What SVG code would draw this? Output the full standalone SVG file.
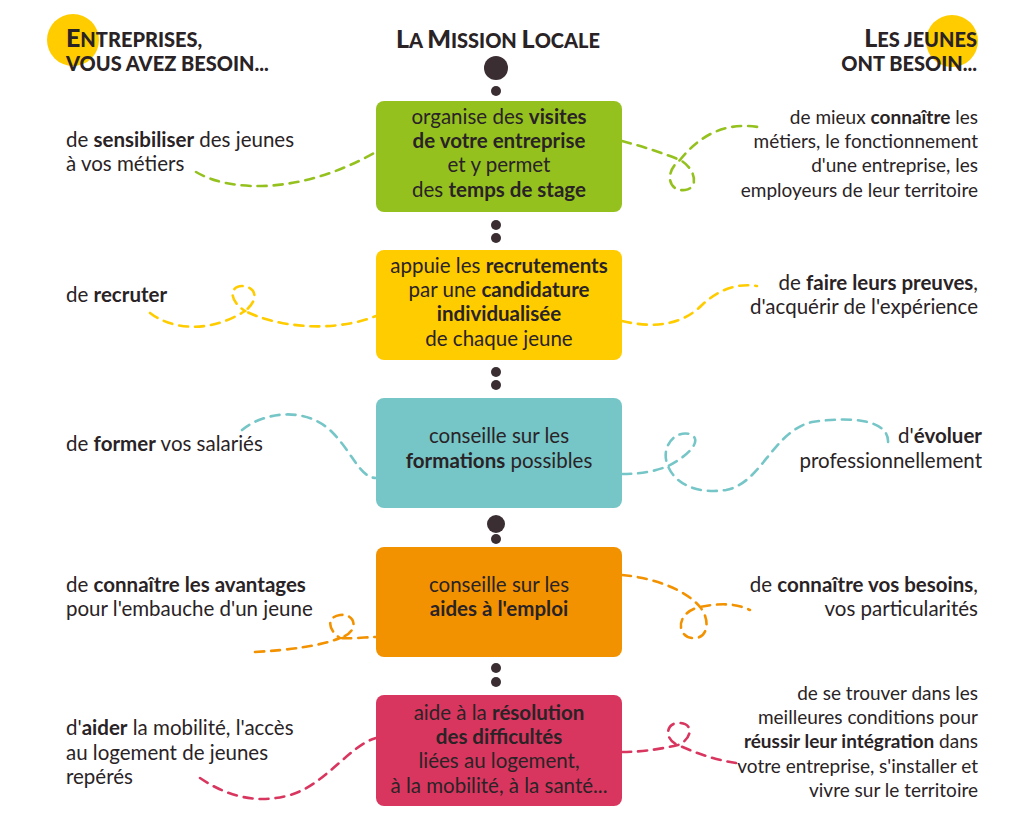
<svg xmlns="http://www.w3.org/2000/svg" width="1024" height="822" viewBox="0 0 1024 822">
<style>
text{font-family:Lato,"Noto Sans",sans-serif;font-size:20.5px;fill:#2a2326}
.s{font-size:19px}
.b{font-weight:700}
.h{font-weight:900;font-size:20px}
.hb{font-size:25px}
.c{text-anchor:middle}
.r{text-anchor:end}
.d{fill:none;stroke-width:2.6;stroke-dasharray:9 7;stroke-linecap:round}
.dot{fill:#3a2e33}
</style>
<rect width="1024" height="822" fill="#fff"/>
<g id="headers">
<circle cx="73" cy="40" r="26" fill="#ffcc00"/>
<circle cx="952" cy="41" r="26" fill="#ffcc00"/>
<text class="h" x="66" y="47"><tspan class="hb">E</tspan>NTREPRISES,</text>
<text class="h" x="66" y="71">VOUS AVEZ BESOIN...</text>
<text class="h c" x="498" y="48"><tspan class="hb">L</tspan>A <tspan class="hb">M</tspan>ISSION <tspan class="hb">L</tspan>OCALE</text>
<text class="h r" x="977" y="47"><tspan class="hb">L</tspan>ES JEUNES</text>
<text class="h r" x="977" y="71">ONT BESOIN...</text>
</g>
<g id="dots">
<circle class="dot" cx="496" cy="68" r="12"/>
<circle class="dot" cx="496" cy="91" r="5"/>
<circle class="dot" cx="496" cy="225" r="5"/>
<circle class="dot" cx="496" cy="238" r="5"/>
<circle class="dot" cx="496" cy="372" r="5"/>
<circle class="dot" cx="496" cy="385" r="5"/>
<circle class="dot" cx="496" cy="524" r="9"/>
<circle class="dot" cx="496" cy="539" r="5"/>
<circle class="dot" cx="496" cy="668" r="5"/>
<circle class="dot" cx="496" cy="682" r="5"/>
</g>
<g id="connectors">
<path class="d" stroke="#95c11f" d="M196,172 C230,192 300,195 376,152"/>
<path class="d" stroke="#95c11f" d="M622,141 C645,147 665,154 680,160 C695,168 700,188 685,190 C668,192 664,172 680,160 C700,135 725,122 758,127"/>
<path class="d" stroke="#ffcc00" d="M150,313 C168,327 205,336 245,311 C228,300 230,286 242,286 C257,287 259,300 245,311 C275,326 330,334 376,316"/>
<path class="d" stroke="#ffcc00" d="M622,321 C660,330 685,322 702,305 C720,288 740,283 757,286"/>
<path class="d" stroke="#76c6c8" d="M242,430 C262,413 305,405 332,432 C352,452 360,478 376,478"/>
<path class="d" stroke="#76c6c8" d="M622,474 C642,474 656,471 668,466 C688,456 704,440 690,434 C674,430 660,448 668,466 C676,486 700,494 726,490 C762,483 772,432 812,422 C852,416 890,420 888,443"/>
<path class="d" stroke="#f39200" d="M255,652 C290,650 320,646 340,638 C328,630 326,617 340,615 C356,613 360,632 340,638 C355,639 366,637 376,637"/>
<path class="d" stroke="#f39200" d="M622,575 C655,578 686,590 700,607 C711,620 708,640 692,638 C676,636 676,612 700,607 C720,603 735,603 750,610"/>
<path class="d" stroke="#d9365f" d="M200,778 C225,795 255,805 290,795 C325,785 350,745 376,738"/>
<path class="d" stroke="#d9365f" d="M622,752 C645,752 665,748 678,745 C691,740 695,724 680,723 C665,722 664,740 678,745 C698,754 716,760 736,763"/>
</g>
<g id="box1">
<rect x="376" y="101" width="246" height="111" rx="8" fill="#95c11f"/>
<text class="c" x="499" y="124">organise des <tspan class="b">visites</tspan></text>
<text class="c b" x="499" y="148">de votre entreprise</text>
<text class="c" x="499" y="172">et y permet</text>
<text class="c" x="499" y="197">des <tspan class="b">temps de stage</tspan></text>
</g>
<g id="box2">
<rect x="376" y="250" width="246" height="110" rx="8" fill="#ffcc00"/>
<text class="c" x="499" y="273">appuie les <tspan class="b">recrutements</tspan></text>
<text class="c" x="499" y="297">par une <tspan class="b">candidature</tspan></text>
<text class="c b" x="499" y="321">individualisée</text>
<text class="c" x="499" y="346">de chaque jeune</text>
</g>
<g id="box3">
<rect x="376" y="398" width="246" height="110" rx="8" fill="#76c6c8"/>
<text class="c" x="499" y="443">conseille sur les</text>
<text class="c" x="499" y="468"><tspan class="b">formations</tspan> possibles</text>
</g>
<g id="box4">
<rect x="376" y="547" width="246" height="110" rx="8" fill="#f39200"/>
<text class="c" x="499" y="592">conseille sur les</text>
<text class="c b" x="499" y="616">aides à l'emploi</text>
</g>
<g id="box5">
<rect x="376" y="695" width="246" height="111" rx="8" fill="#d9365f"/>
<text class="c" x="499" y="720">aide à la <tspan class="b">résolution</tspan></text>
<text class="c b" x="499" y="744">des difficultés</text>
<text class="c" x="499" y="768">liées au logement,</text>
<text class="c" x="499" y="793">à la mobilité, à la santé...</text>
</g>
<g id="left1">
<text x="66" y="147">de <tspan class="b">sensibiliser</tspan> des jeunes</text>
<text x="66" y="171">à vos métiers</text>
</g>
<g id="left2"><text x="66" y="302">de <tspan class="b">recruter</tspan></text></g>
<g id="left3"><text x="66" y="451">de <tspan class="b">former</tspan> vos salariés</text></g>
<g id="left4">
<text x="66" y="592">de <tspan class="b">connaître les avantages</tspan></text>
<text x="66" y="616">pour l'embauche d'un jeune</text>
</g>
<g id="left5">
<text x="66" y="735">d'<tspan class="b">aider</tspan> la mobilité, l'accès</text>
<text x="66" y="760">au logement de jeunes</text>
<text x="66" y="784">repérés</text>
</g>
<g id="right1">
<text class="r s" x="978" y="124">de mieux <tspan class="b">connaître</tspan> les</text>
<text class="r s" x="978" y="148">métiers, le fonctionnement</text>
<text class="r s" x="978" y="172">d'une entreprise, les</text>
<text class="r s" x="978" y="197">employeurs de leur territoire</text>
</g>
<g id="right2">
<text class="r" x="978" y="290">de <tspan class="b">faire leurs preuves</tspan>,</text>
<text class="r" x="978" y="314">d'acquérir de l'expérience</text>
</g>
<g id="right3">
<text class="r" x="982" y="443">d'<tspan class="b">évoluer</tspan></text>
<text class="r" x="982" y="468">professionnellement</text>
</g>
<g id="right4">
<text class="r" x="978" y="592">de <tspan class="b">connaître vos besoins</tspan>,</text>
<text class="r" x="978" y="616">vos particularités</text>
</g>
<g id="right5">
<text class="r s" x="978" y="700">de se trouver dans les</text>
<text class="r s" x="978" y="724">meilleures conditions pour</text>
<text class="r s" x="978" y="748"><tspan class="b">réussir leur intégration</tspan> dans</text>
<text class="r s" x="978" y="773">votre entreprise, s'installer et</text>
<text class="r s" x="978" y="797">vivre sur le territoire</text>
</g>
</svg>
